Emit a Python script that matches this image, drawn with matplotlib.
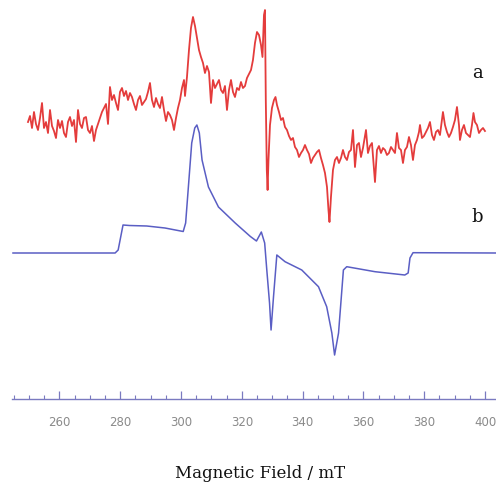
import matplotlib
matplotlib.use("Agg")
import matplotlib.pyplot as plt
from matplotlib.ticker import MultipleLocator

# ---- trace a (experimental, noisy) : field (mT), intensity (arb.) ----
field_a = [249.64, 250.30, 250.96, 251.61, 252.27, 252.93, 253.59, 254.25, 254.90, 255.56,
           256.22, 256.88, 257.54, 258.19, 258.85, 259.51, 260.17, 260.83, 261.48, 262.14,
           262.80, 263.46, 264.11, 264.77, 265.43, 266.09, 266.75, 267.40, 268.06, 268.72,
           269.38, 270.04, 270.69, 271.35, 272.01, 272.67, 273.33, 273.98, 274.64, 275.30,
           275.96, 276.61, 277.27, 277.93, 278.59, 279.25, 279.90, 280.56, 281.22, 281.88,
           282.54, 283.19, 283.85, 284.51, 285.17, 285.83, 286.48, 287.14, 287.80, 288.46,
           289.11, 289.77, 290.43, 291.09, 291.75, 292.40, 293.06, 293.72, 294.38, 295.04,
           295.69, 296.35, 297.01, 297.67, 298.33, 298.98, 299.64, 300.30, 300.96, 301.29,
           301.94, 302.60, 303.26, 303.92, 304.58, 305.23, 305.89, 306.55, 307.21, 307.86,
           308.52, 309.18, 309.84, 310.50, 311.15, 311.81, 312.47, 313.13, 313.79, 314.44,
           315.10, 315.76, 316.42, 317.08, 317.73, 318.39, 319.05, 319.71, 320.36, 321.02,
           321.68, 322.34, 323.00, 323.65, 324.31, 324.97, 325.63, 326.29, 326.78, 327.27,
           327.60, 327.87, 328.20, 328.46, 328.75, 329.25, 329.90, 330.56, 331.06, 331.55,
           332.21, 332.87, 333.52, 334.18, 334.84, 335.50, 336.16, 336.81, 337.47, 338.13,
           338.79, 339.45, 340.10, 340.76, 341.42, 342.08, 342.73, 343.39, 344.05, 344.71,
           345.37, 346.02, 346.68, 347.34, 348.00, 348.49, 348.82, 349.31, 349.97, 350.63,
           351.29, 351.94, 352.60, 353.26, 353.92, 354.58, 355.23, 355.89, 356.55, 357.21,
           357.87, 358.52, 359.18, 359.84, 360.83, 361.48, 362.14, 362.80, 363.79, 364.44,
           365.10, 365.76, 366.42, 367.08, 367.73, 368.39, 369.05, 369.71, 370.37, 371.02,
           371.68, 372.34, 373.00, 373.65, 374.31, 374.97, 375.63, 376.29, 376.94, 377.60,
           378.26, 378.59, 379.25, 379.90, 380.56, 381.22, 381.88, 382.54, 383.19, 383.85,
           384.51, 385.17, 385.83, 386.15, 386.81, 387.47, 388.13, 388.79, 389.44, 390.10,
           390.76, 391.42, 391.75, 392.40, 393.06, 393.72, 394.38, 395.04, 395.69, 396.19,
           396.68, 397.34, 398.00, 398.66, 399.32, 399.97]
signal_a = [3, 9, -3, 13, 1, -5, 7, 22, -3, 3,
            -8, 15, -1, -6, -13, 5, -3, 4, -8, -12,
            3, 8, -1, 5, -17, 15, 1, -3, 7, 8,
            -5, -8, -1, -16, -5, 1, 7, 13, 17, 21,
            1, 38, 25, 30, 22, 15, 33, 37, 29, 34,
            25, 32, 28, 21, 15, 25, 29, 20, 23, 26,
            33, 42, 25, 18, 27, 21, 17, 28, 15, 4,
            13, 10, 5, -5, 7, 17, 25, 37, 45, 29,
            48, 75, 97, 108, 99, 87, 75, 68, 62, 52,
            59, 53, 22, 45, 37, 41, 45, 35, 32, 39,
            15, 35, 45, 33, 28, 37, 35, 43, 37, 39,
            47, 51, 55, 65, 82, 93, 90, 80, 68, 110,
            115, 25, -45, -65, -35, 0, 17, 25, 28, 20,
            13, 5, 7, -2, -5, -11, -15, -13, -22, -25,
            -32, -28, -25, -20, -25, -29, -38, -33, -30, -27,
            -25, -33, -40, -48, -62, -85, -97, -72, -45, -35,
            -32, -38, -33, -25, -32, -35, -27, -25, -5, -42,
            -20, -18, -32, -23, -5, -28, -21, -18, -57, -25,
            -21, -28, -23, -25, -30, -28, -22, -25, -28, -8,
            -23, -25, -38, -25, -22, -12, -20, -35, -20, -15,
            -7, 0, -13, -11, -7, -3, 3, -10, -15, -7,
            -5, -10, 5, 13, 0, -7, -12, -8, -2, 5,
            18, 0, -15, -5, 0, -8, -10, -12, 0, 12,
            3, 0, -8, -5, -3, -6]

# ---- trace b (simulation) ----
field_b = [244.7, 278.3, 279.3, 280.9, 283.0, 288.7, 294.7, 300.7, 301.5, 302.5,
           303.5, 304.5, 305.2, 306.0, 306.9, 309.0, 312.3, 317.8, 322.8, 324.8,
           326.4, 327.5, 328.2, 329.1, 329.6, 330.4, 331.5, 334.2, 339.7, 345.2,
           347.9, 349.6, 350.5, 351.8, 353.4, 354.5, 363.8, 373.6, 374.7, 375.3,
           376.3, 403.6]
signal_b = [0, 0, 3, 28, 27.5, 27, 25, 21.5, 30, 70,
            110, 125, 128, 120, 93, 66, 46, 30, 16.5, 12,
            21, 10, -17, -50, -77, -44, -2, -8.7, -17, -33.7,
            -53.7, -80, -102, -80, -17, -13.7, -18.7, -22, -20, -5,
            0.3, 0]

tick_values = [260, 280, 300, 320, 340, 360, 380, 400]
trace_labels = ["a", "b"]

offset_a = 363
offset_b = 235
axis_y = 89

fig = plt.figure(figsize=(4.96, 4.88), dpi=100)
ax = fig.add_axes([0, 0, 1, 1])
ax.set_xlim(240.43, 403.6)
ax.set_ylim(0, 488)

ax.plot(field_a, [v + offset_a for v in signal_a], color="#e43c3c", lw=1.3)
ax.plot(field_b, [v + offset_b for v in signal_b], color="#5a5ec4", lw=1.1)

for sp in ["top", "left", "right"]:
    ax.spines[sp].set_visible(False)
ax.spines["bottom"].set_position(("data", axis_y))
ax.spines["bottom"].set_color("#7a7ac0")
ax.spines["bottom"].set_linewidth(1.0)
ax.spines["bottom"].set_bounds(244.5, 403.6)
ax.yaxis.set_visible(False)
ax.set_xticks(tick_values)
ax.xaxis.set_minor_locator(MultipleLocator(5))
ax.tick_params(axis="x", which="major", direction="in", length=6, width=0.9,
               color="#7a7ac0", labelsize=8.5, labelcolor="#8a8a8a", pad=12)
ax.tick_params(axis="x", which="minor", direction="in", length=3, width=0.8,
               color="#7a7ac0")

ax.text(326.0, 14, "Magnetic Field / mT", family="DejaVu Serif", fontsize=12,
        ha="center", va="center", color="#111111")

ax.text(397.5, 415, trace_labels[0], family="DejaVu Serif", fontsize=13,
        ha="center", va="center", color="#111111")
ax.text(397.5, 271, trace_labels[1], family="DejaVu Serif", fontsize=13,
        ha="center", va="center", color="#111111")

fig.savefig("out.png", dpi=100)
